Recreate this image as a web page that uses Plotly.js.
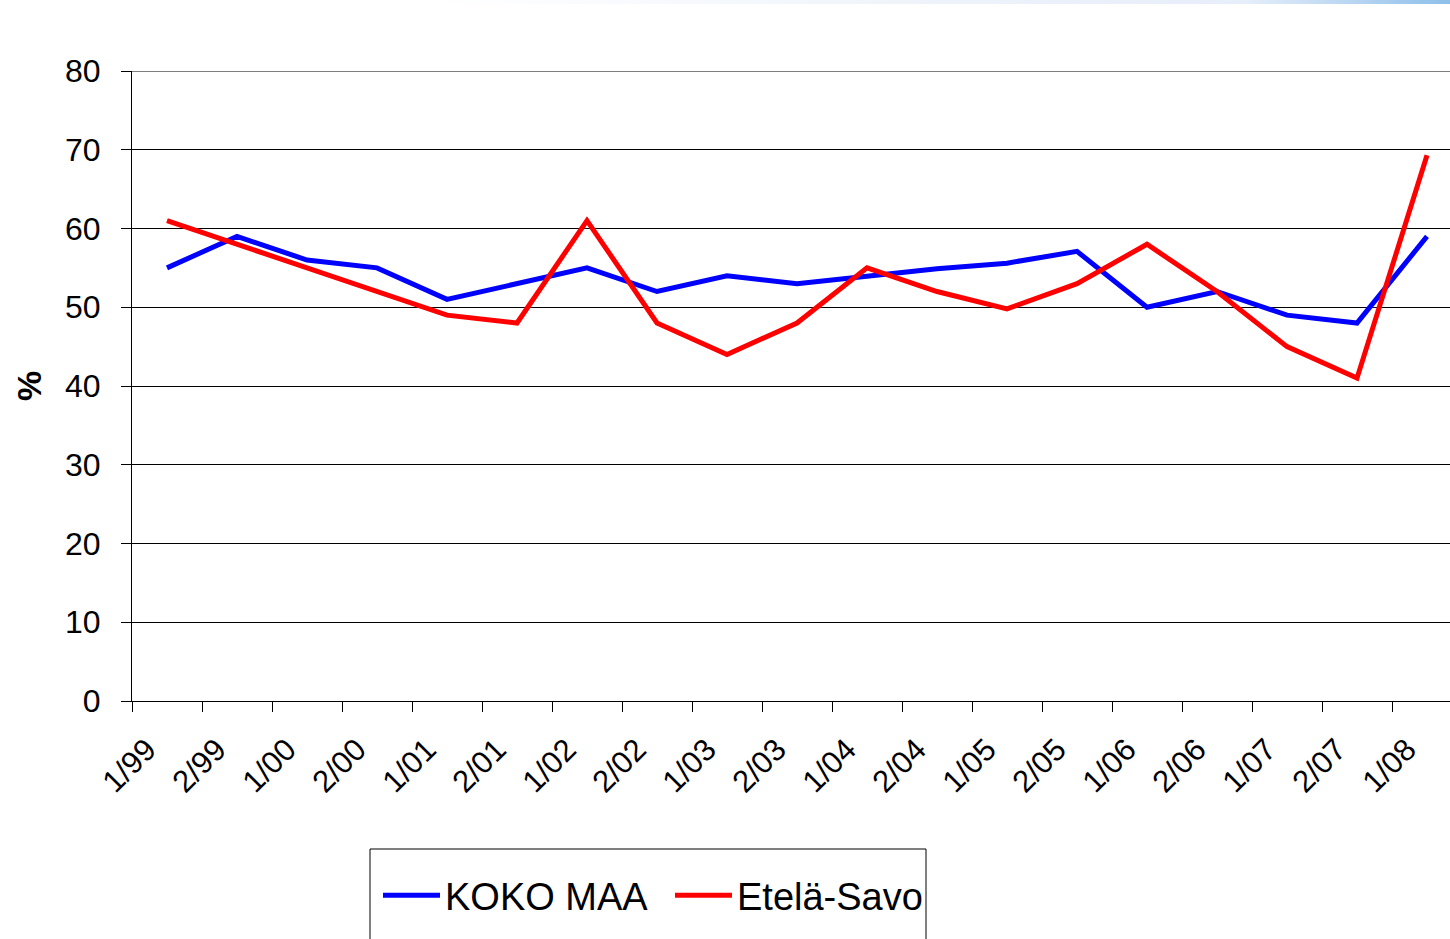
<!DOCTYPE html>
<html>
<head>
<meta charset="utf-8">
<script src="https://cdn.plot.ly/plotly-3.0.1.min.js"></script>
<style>html,body{margin:0;padding:0;background:#fff;}#chart{width:1450px;height:939px;}</style>
</head>
<body>
<div id="chart"></div>
<script>
const categories = ["1/99","2/99","1/00","2/00","1/01","2/01","1/02","2/02","1/03","2/03","1/04","2/04","1/05","2/05","1/06","2/06","1/07","2/07","1/08"];
const kokoMaa = [55, 59, 56, 55, 51, 53, 55, 52, 54, 53, 54, 54.9, 55.6, 57.1, 50, 52, 49, 48, 59];
const etelaSavo = [61, 58, 55, 52, 49, 48, 61, 48, 44, 48, 55, 52, 49.8, 53, 58, 52, 45, 41, 69.3];
const yTicks = [0, 10, 20, 30, 40, 50, 60, 70, 80];

const font = "Liberation Sans, Arial, sans-serif";
const gradSvg = 'data:image/svg+xml;utf8,' + encodeURIComponent(
  '<svg xmlns="http://www.w3.org/2000/svg" width="1000" height="10" preserveAspectRatio="none">' +
  '<defs><linearGradient id="g" x1="0" x2="1" y1="0" y2="0">' +
  '<stop offset="0" stop-color="#ffffff"/><stop offset="0.5" stop-color="#eef3fb"/>' +
  '<stop offset="0.8" stop-color="#e6eefa"/><stop offset="1" stop-color="#8dbfea"/></linearGradient></defs>' +
  '<rect width="1000" height="10" fill="url(#g)"/></svg>');

const traces = [
  {x: categories, y: kokoMaa, name: "KOKO MAA", type: "scatter", mode: "lines",
   line: {color: "#0000ff", width: 5}},
  {x: categories, y: etelaSavo, name: "Etelä-Savo", type: "scatter", mode: "lines",
   line: {color: "#ff0000", width: 5}}
];

const plotL = 132, plotR = 1450, plotT = 71, plotB = 701;
const pw = plotR - plotL, ph = plotB - plotT;
const px2x = p => (p - plotL) / pw;
const py2y = p => (plotB - p) / ph;

const layout = {
  width: 1450, height: 939,
  margin: {l: plotL, r: 1450 - plotR, t: plotT, b: 939 - plotB, pad: 0},
  paper_bgcolor: "#ffffff", plot_bgcolor: "#ffffff",
  font: {family: font, color: "#000000", size: 30},
  showlegend: true,
  xaxis: {
    type: "category", range: [-0.5, -0.5 + pw / 70],
    tickson: "boundaries", ticks: "outside", ticklen: 10, tickcolor: "#000", tickwidth: 1,
    tickangle: -45, tickfont: {size: 31, family: font},
    showline: true, linecolor: "#000", linewidth: 1, showgrid: false, zeroline: false,
    ticklabelstandoff: 17, ticklabelshift: -20, fixedrange: true
  },
  yaxis: {
    range: [0, 80], tickvals: yTicks, ticktext: yTicks.map(String),
    ticks: "outside", ticklen: 10, tickcolor: "#000", tickwidth: 1,
    tickfont: {size: 32, family: font},
    showline: true, linecolor: "#000", linewidth: 1,
    showgrid: true, gridcolor: "#000", gridwidth: 1, zeroline: false,
    ticklabelstandoff: 14,
    title: {text: "<b>%</b>", font: {size: 34, family: font}, standoff: 13}, fixedrange: true
  },
  legend: {
    orientation: "h", x: px2x(378), y: py2y(864), xanchor: "left", yanchor: "top",
    bgcolor: "rgba(0,0,0,0)", borderwidth: 0,
    font: {size: 38, family: font}, itemwidth: 57,
    entrywidth: 220, entrywidthmode: "pixels", traceorder: "normal"
  },
  shapes: [
    {type: "line", xref: "paper", yref: "y", x0: 0, x1: 1, y0: yTicks[yTicks.length - 1], y1: yTicks[yTicks.length - 1],
     line: {color: "#000", width: 1}, layer: "below"},
    {type: "rect", xref: "paper", yref: "paper",
     x0: px2x(370), x1: px2x(926), y0: py2y(960), y1: py2y(849),
     line: {color: "#000", width: 1}, fillcolor: "rgba(0,0,0,0)", layer: "below"}
  ],
  images: [
    {source: gradSvg, xref: "paper", yref: "paper", x: px2x(430), y: py2y(0),
     sizex: (1450 - 430) / pw, sizey: 4 / ph, sizing: "stretch",
     xanchor: "left", yanchor: "top", layer: "below"}
  ]
};

Plotly.newPlot("chart", traces, layout, {displayModeBar: false, staticPlot: true});
</script>
</body>
</html>
